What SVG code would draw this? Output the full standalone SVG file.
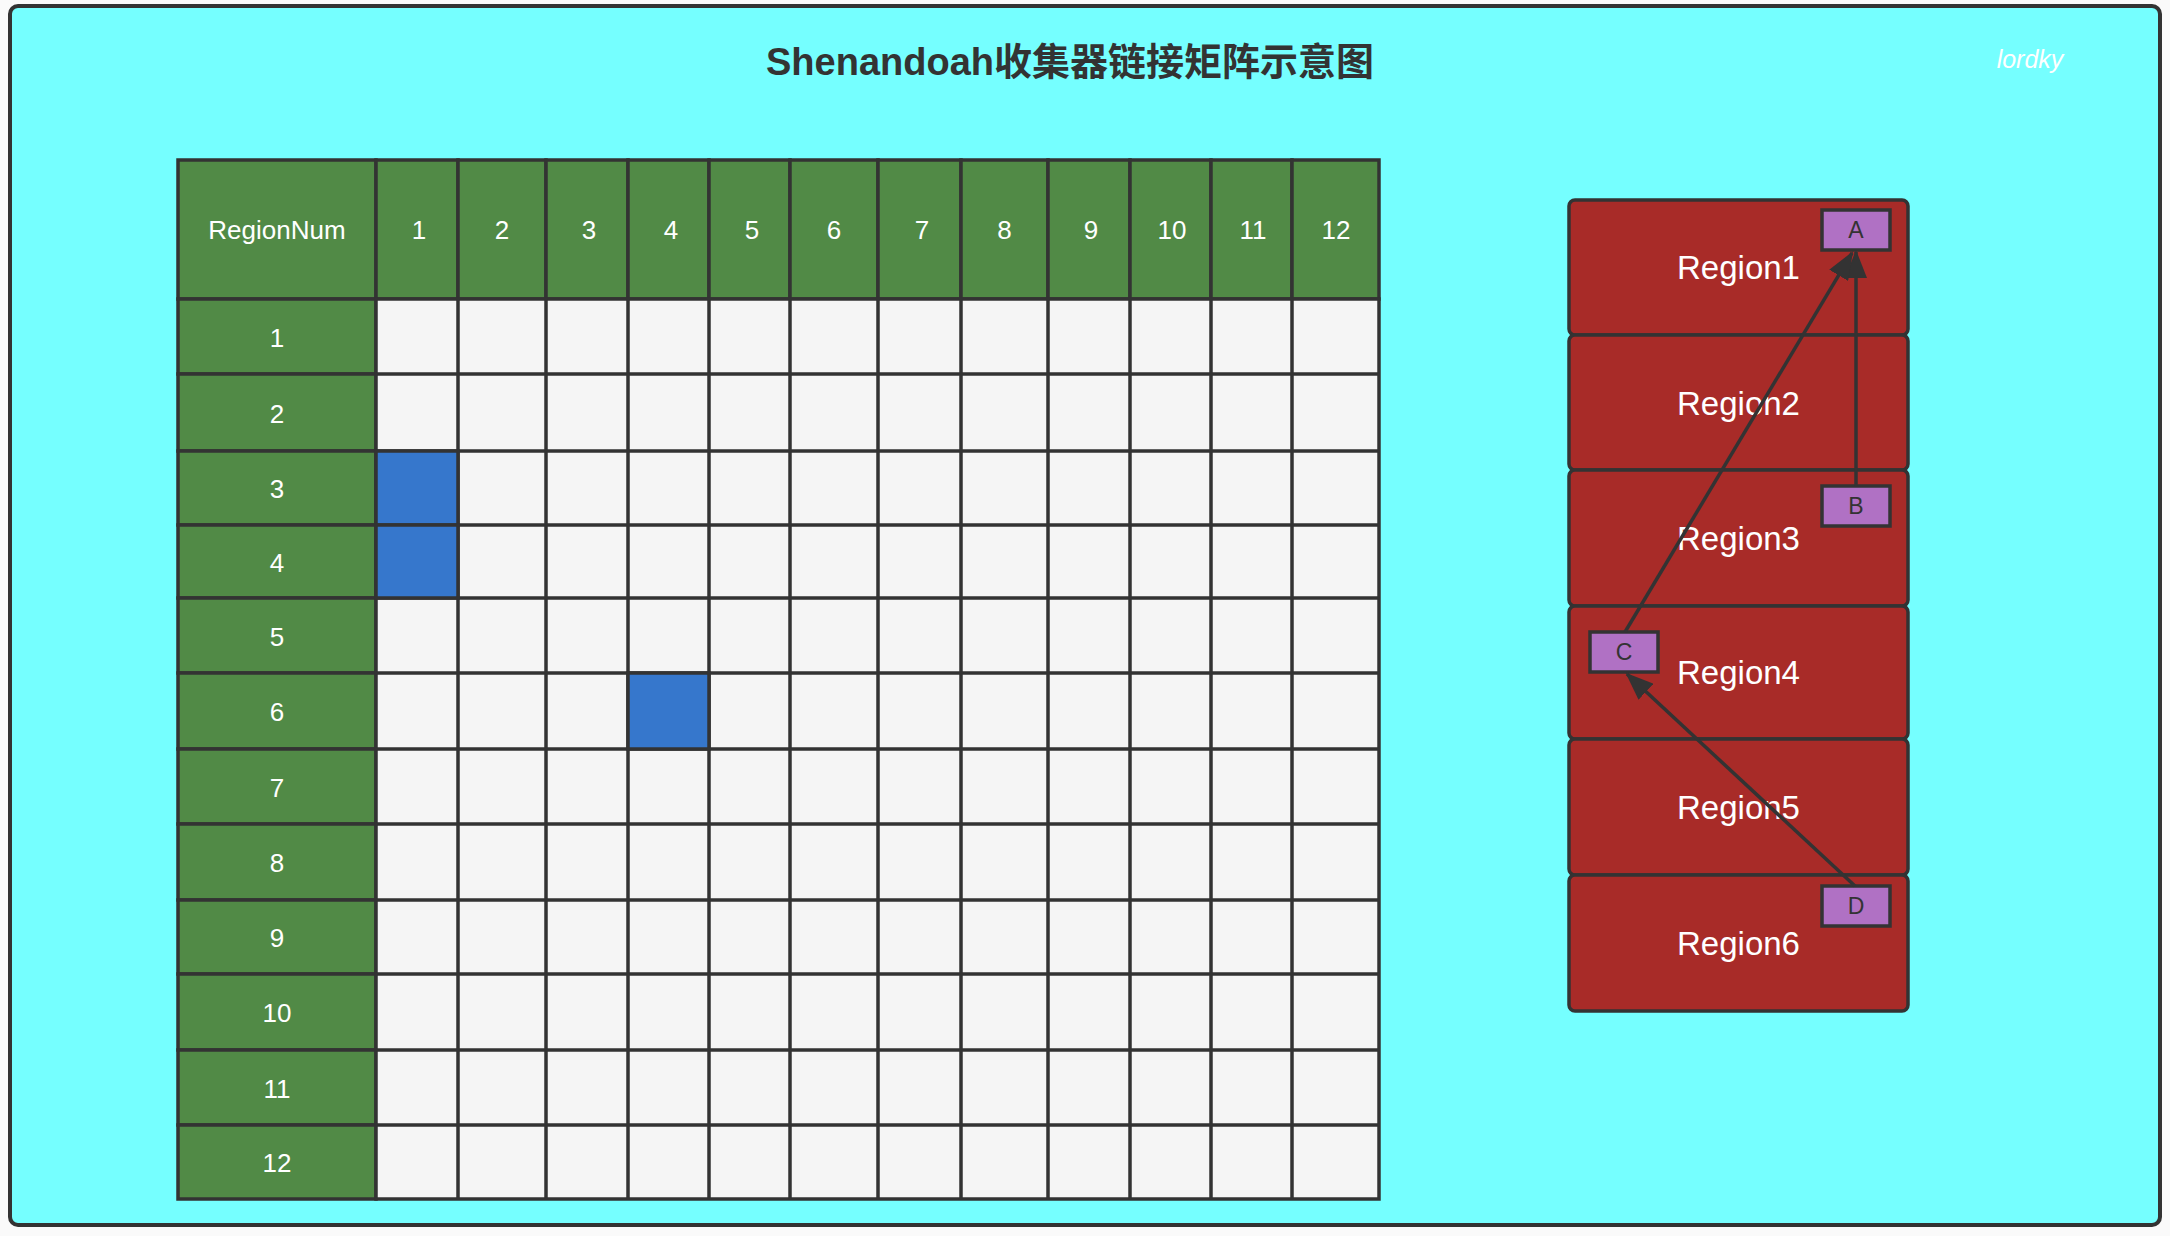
<svg xmlns="http://www.w3.org/2000/svg" width="2170" height="1236" viewBox="0 0 2170 1236">
<style>
.frame{fill:#75FFFF;stroke:#333;stroke-width:4}
.hd{fill:#518A46;stroke:#333;stroke-width:3.5}
.cell{fill:#F5F5F5;stroke:#333;stroke-width:3.5}
.sel{fill:#3677CC;stroke:#333;stroke-width:3.5}
.ht{font-family:"Liberation Sans",Arial,sans-serif;font-size:26px;fill:#fff;text-anchor:middle}
.reg{fill:#A82B28;stroke:#333;stroke-width:3.5}
.rt{font-family:"Liberation Sans",Arial,sans-serif;font-size:33px;fill:#fff;text-anchor:middle}
.obj{fill:#B071C4;stroke:#333;stroke-width:3.5}
.ot{font-family:"Liberation Sans",Arial,sans-serif;font-size:23px;fill:#333;text-anchor:middle}
.conn{stroke:#333;stroke-width:3.5;fill:none;marker-end:url(#arr)}
</style>
<defs>
<marker id="arr" markerUnits="userSpaceOnUse" markerWidth="28" markerHeight="22" refX="26" refY="11" orient="auto">
<path d="M0,0 L28,11 L0,22 z" fill="#333"/>
</marker>
</defs>
<rect width="2170" height="1236" fill="#FAFAFA"/>
<g id="frame">
<rect class="frame" x="10" y="6" width="2150" height="1219" rx="8"/>
<text x="1070" y="75" font-family="'Liberation Sans','Noto Sans CJK SC',sans-serif" font-size="38" font-weight="bold" fill="#333" text-anchor="middle">Shenandoah收集器链接矩阵示意图</text>
<text x="2030" y="68" font-family="'Liberation Sans',Arial,sans-serif" font-size="25" font-style="italic" fill="#fff" text-anchor="middle">lordky</text>
</g>
<g id="matrix">
<g id="header-row">
<rect class="hd" x="178" y="160" width="198" height="139"/><text class="ht" x="277" y="239">RegionNum</text>
<rect class="hd" x="376" y="160" width="82" height="139"/><text class="ht" x="419" y="239">1</text>
<rect class="hd" x="458" y="160" width="88" height="139"/><text class="ht" x="502" y="239">2</text>
<rect class="hd" x="546" y="160" width="82" height="139"/><text class="ht" x="589" y="239">3</text>
<rect class="hd" x="628" y="160" width="81" height="139"/><text class="ht" x="671" y="239">4</text>
<rect class="hd" x="709" y="160" width="81" height="139"/><text class="ht" x="752" y="239">5</text>
<rect class="hd" x="790" y="160" width="88" height="139"/><text class="ht" x="834" y="239">6</text>
<rect class="hd" x="878" y="160" width="83" height="139"/><text class="ht" x="922" y="239">7</text>
<rect class="hd" x="961" y="160" width="87" height="139"/><text class="ht" x="1004.5" y="239">8</text>
<rect class="hd" x="1048" y="160" width="82" height="139"/><text class="ht" x="1091" y="239">9</text>
<rect class="hd" x="1130" y="160" width="81" height="139"/><text class="ht" x="1172" y="239">10</text>
<rect class="hd" x="1211" y="160" width="81" height="139"/><text class="ht" x="1253" y="239">11</text>
<rect class="hd" x="1292" y="160" width="87" height="139"/><text class="ht" x="1336" y="239">12</text>
</g>
<g id="header-col">
<rect class="hd" x="178" y="299" width="198" height="75"/><text class="ht" x="277" y="347">1</text>
<rect class="hd" x="178" y="374" width="198" height="77"/><text class="ht" x="277" y="423">2</text>
<rect class="hd" x="178" y="451" width="198" height="74"/><text class="ht" x="277" y="498">3</text>
<rect class="hd" x="178" y="525" width="198" height="73"/><text class="ht" x="277" y="572">4</text>
<rect class="hd" x="178" y="598" width="198" height="75"/><text class="ht" x="277" y="646">5</text>
<rect class="hd" x="178" y="673" width="198" height="76"/><text class="ht" x="277" y="721">6</text>
<rect class="hd" x="178" y="749" width="198" height="75"/><text class="ht" x="277" y="797">7</text>
<rect class="hd" x="178" y="824" width="198" height="76"/><text class="ht" x="277" y="872">8</text>
<rect class="hd" x="178" y="900" width="198" height="74"/><text class="ht" x="277" y="947">9</text>
<rect class="hd" x="178" y="974" width="198" height="76"/><text class="ht" x="277" y="1022">10</text>
<rect class="hd" x="178" y="1050" width="198" height="75"/><text class="ht" x="277" y="1098">11</text>
<rect class="hd" x="178" y="1125" width="198" height="74"/><text class="ht" x="277" y="1172">12</text>
</g>
<g id="cells">
<rect class="cell" x="376" y="299" width="1003" height="900"/>
<path d="M458,299V1199M546,299V1199M628,299V1199M709,299V1199M790,299V1199M878,299V1199M961,299V1199M1048,299V1199M1130,299V1199M1211,299V1199M1292,299V1199M376,374H1379M376,451H1379M376,525H1379M376,598H1379M376,673H1379M376,749H1379M376,824H1379M376,900H1379M376,974H1379M376,1050H1379M376,1125H1379" stroke="#333" stroke-width="3.5" fill="none"/>
</g>
<g id="marked-cells">
<rect class="sel" x="376" y="451" width="82" height="74"/>
<rect class="sel" x="376" y="525" width="82" height="73"/>
<rect class="sel" x="628" y="673" width="81" height="76"/>
</g>
</g>
<g id="region1"><rect class="reg" x="1569" y="200" width="339" height="135" rx="6"/><text class="rt" x="1738.5" y="279">Region1</text></g>
<g id="region2"><rect class="reg" x="1569" y="335" width="339" height="135" rx="6"/><text class="rt" x="1738.5" y="415">Region2</text></g>
<g id="region3"><rect class="reg" x="1569" y="470" width="339" height="136" rx="6"/><text class="rt" x="1738.5" y="550">Region3</text></g>
<g id="region4"><rect class="reg" x="1569" y="606" width="339" height="133" rx="6"/><text class="rt" x="1738.5" y="684">Region4</text></g>
<g id="region5"><rect class="reg" x="1569" y="739" width="339" height="136" rx="6"/><text class="rt" x="1738.5" y="819">Region5</text></g>
<g id="region6"><rect class="reg" x="1569" y="875" width="339" height="136" rx="6"/><text class="rt" x="1738.5" y="955">Region6</text></g>
<g id="objA"><rect class="obj" x="1822" y="210" width="68" height="40"/><text class="ot" x="1856" y="238">A</text></g>
<g id="objB"><rect class="obj" x="1822" y="486" width="68" height="40"/><text class="ot" x="1856" y="514">B</text></g>
<g id="objC"><rect class="obj" x="1590" y="632" width="68" height="40"/><text class="ot" x="1624" y="660">C</text></g>
<g id="objD"><rect class="obj" x="1822" y="886" width="68" height="40"/><text class="ot" x="1856" y="914">D</text></g>
<g id="connectors">
<line class="conn" x1="1856" y1="486" x2="1856" y2="252"/>
<line class="conn" x1="1625" y1="632" x2="1852" y2="253"/>
<line class="conn" x1="1855" y1="886" x2="1627" y2="674"/>
</g>
</svg>
